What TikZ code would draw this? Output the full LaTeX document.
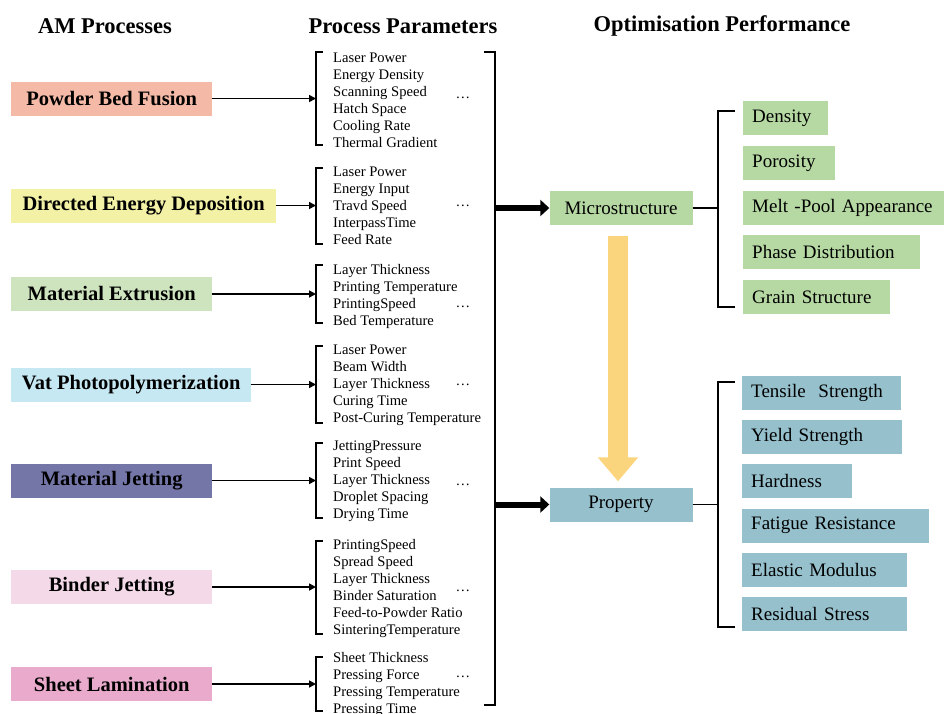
\documentclass[tikz,border=0pt]{standalone}
\usepackage{fontspec}
\setmainfont{Liberation Serif}
\usetikzlibrary{arrows.meta}

\begin{document}
\begin{tikzpicture}[x=1pt,y=-1pt,
  header/.style={inner sep=0pt,font=\fontsize{22.5}{26}\selectfont\bfseries},
  procbox/.style={anchor=west,minimum height=34pt,inner sep=0pt,font=\fontsize{20.5}{22}\selectfont\bfseries},
  parlist/.style={anchor=west,align=left,inner sep=0pt,font=\fontsize{14.6}{17}\selectfont},
  pardots/.style={inner sep=0pt,font=\fontsize{14.6}{17}\selectfont},
  optbox/.style={anchor=west,minimum height=34pt,inner xsep=9pt,inner ysep=0pt,align=left,font=\fontsize{19}{22}\selectfont},
  midbox/.style={minimum width=143pt,minimum height=34pt,inner sep=0pt,font=\fontsize{19}{22}\selectfont},
  procarrow/.style={line width=1.6pt,-{Triangle[length=7pt,width=7pt]}},
  bigarrow/.style={line width=6pt,-{Triangle[length=9pt,width=16pt]}},
  bracket/.style={line width=1.6pt}]
\definecolor{pbfColor}{RGB}{244,186,167}
\definecolor{dedColor}{RGB}{242,241,166}
\definecolor{meColor}{RGB}{205,228,190}
\definecolor{vpColor}{RGB}{198,232,243}
\definecolor{mjColor}{RGB}{117,118,168}
\definecolor{bjColor}{RGB}{244,218,232}
\definecolor{slColor}{RGB}{233,170,203}
\definecolor{microColor}{RGB}{182,217,163}
\definecolor{propColor}{RGB}{150,192,204}
\definecolor{flowColor}{RGB}{251,213,126}
\path[use as bounding box,fill=white] (0,0) rectangle (944,713);

% column headers
\node[header] (hAM) at (105,26) {AM Processes};
\node[header] (hPP) at (403,26) {Process Parameters};
\node[header] (hOP) at (722,26) {Optimisation Performance};

% AM processes
\node[procbox,fill=pbfColor,minimum width=201pt] (pbf) at (11,98.5) {Powder Bed Fusion};
\node[procbox,fill=dedColor,minimum width=265pt] (ded) at (11,205.5) {Directed Energy Deposition};
\node[procbox,fill=meColor,minimum width=201pt] (me) at (11,294) {Material Extrusion};
\node[procbox,fill=vpColor,minimum width=240pt] (vp) at (11,384.5) {Vat Photopolymerization};
\node[procbox,fill=mjColor,minimum width=201pt] (mj) at (11,480.5) {Material Jetting};
\node[procbox,fill=bjColor,minimum width=201pt] (bj) at (11,587) {Binder Jetting};
\node[procbox,fill=slColor,minimum width=201pt] (sl) at (11,684) {Sheet Lamination};

% process parameters
\node[parlist] (par1) at (333,100.5) {Laser Power\\Energy Density\\Scanning Speed\\Hatch Space\\Cooling Rate\\Thermal Gradient};
\node[parlist] (par2) at (333,206) {Laser Power\\Energy Input\\Travd Speed\\InterpassTime\\Feed Rate};
\node[parlist] (par3) at (333,296.5) {Layer Thickness\\Printing Temperature\\PrintingSpeed\\Bed Temperature};
\node[parlist] (par4) at (333,385) {Laser Power\\Beam Width\\Layer Thickness\\Curing Time\\Post-Curing Temperature};
\node[parlist] (par5) at (333,481) {JettingPressure\\Print Speed\\Layer Thickness\\Droplet Spacing\\Drying Time};
\node[parlist] (par6) at (333,588.5) {PrintingSpeed\\Spread Speed\\Layer Thickness\\Binder Saturation\\Feed-to-Powder Ratio\\SinteringTemperature};
\node[parlist] (par7) at (333,684.5) {Sheet Thickness\\Pressing Force\\Pressing Temperature\\Pressing Time};

\node[pardots] (dots1) at (463,98) {\ldots};
\node[pardots] (dots2) at (463,206) {\ldots};
\node[pardots] (dots3) at (463,307) {\ldots};
\node[pardots] (dots4) at (463,385) {\ldots};
\node[pardots] (dots5) at (463,485) {\ldots};
\node[pardots] (dots6) at (463,591) {\ldots};
\node[pardots] (dots7) at (463,677) {\ldots};

% left brackets
\draw[bracket] (323,52) -- (316,52) -- (316,145) -- (323,145);
\draw[bracket] (323,168) -- (316,168) -- (316,244) -- (323,244);
\draw[bracket] (323,265) -- (316,265) -- (316,323) -- (323,323);
\draw[bracket] (323,346) -- (316,346) -- (316,423) -- (323,423);
\draw[bracket] (323,443) -- (316,443) -- (316,518) -- (323,518);
\draw[bracket] (323,541) -- (316,541) -- (316,634) -- (323,634);
\draw[bracket] (323,657) -- (316,657) -- (316,711) -- (323,711);

\coordinate (g1) at (316,98.5);
\coordinate (g2) at (316,205.5);
\coordinate (g3) at (316,294);
\coordinate (g4) at (316,384.5);
\coordinate (g5) at (316,480.5);
\coordinate (g6) at (316,587);
\coordinate (g7) at (316,684);

\draw[procarrow] (pbf) -- (g1);
\draw[procarrow] (ded) -- (g2);
\draw[procarrow] (me) -- (g3);
\draw[procarrow] (vp) -- (g4);
\draw[procarrow] (mj) -- (g5);
\draw[procarrow] (bj) -- (g6);
\draw[procarrow] (sl) -- (g7);

% big bracket
\draw[bracket] (484,52) -- (495,52) -- (495,705) -- (484,705);
\coordinate (bigbar) at (495,0);

% optimisation targets
\node[midbox,fill=microColor] (micro) at (621,208) {Microstructure};
\node[midbox,fill=propColor] (prop) at (621,504.5) {Property};

\draw[bigarrow] (bigbar |- micro.west) -- (micro.west);
\draw[bigarrow] (bigbar |- prop.west) -- (prop.west);

\draw[line width=20pt,flowColor,-{Triangle[length=24pt,width=39pt]}] ([xshift=-3pt]micro.south) ++(0,11) -- ([xshift=-3pt,yshift=6pt]prop.north);

\node[optbox,fill=microColor,text width=67pt] (dens) at (743,118) {Density};
\node[optbox,fill=microColor,text width=74pt] (poro) at (743,163) {Porosity};
\node[optbox,fill=microColor,text width=183pt] (melt) at (743,208) {Melt -Pool Appearance};
\node[optbox,fill=microColor,text width=159pt] (phase) at (743,252) {Phase Distribution};
\node[optbox,fill=microColor,text width=129pt] (grain) at (743,297) {Grain Structure};

\node[optbox,fill=propColor,text width=141pt] (tens) at (742,393) {Tensile\ \ Strength};
\node[optbox,fill=propColor,text width=142pt] (yield) at (742,437) {Yield Strength};
\node[optbox,fill=propColor,text width=92pt] (hard) at (742,481) {Hardness};
\node[optbox,fill=propColor,text width=169pt] (fati) at (742,525.5) {Fatigue Resistance};
\node[optbox,fill=propColor,text width=147pt] (elas) at (742,570) {Elastic Modulus};
\node[optbox,fill=propColor,text width=147pt] (resi) at (742,614) {Residual Stress};

% right brackets
\coordinate (mbar) at (718,0);
\draw[bracket] (micro.east) -- (mbar |- micro.east);
\draw[bracket] (735,111) -- (718,111) -- (718,307) -- (735,307);
\draw[bracket] (prop.east) -- (mbar |- prop.east);
\draw[bracket] (735,382) -- (718,382) -- (718,627) -- (735,627);
\end{tikzpicture}
\end{document}
